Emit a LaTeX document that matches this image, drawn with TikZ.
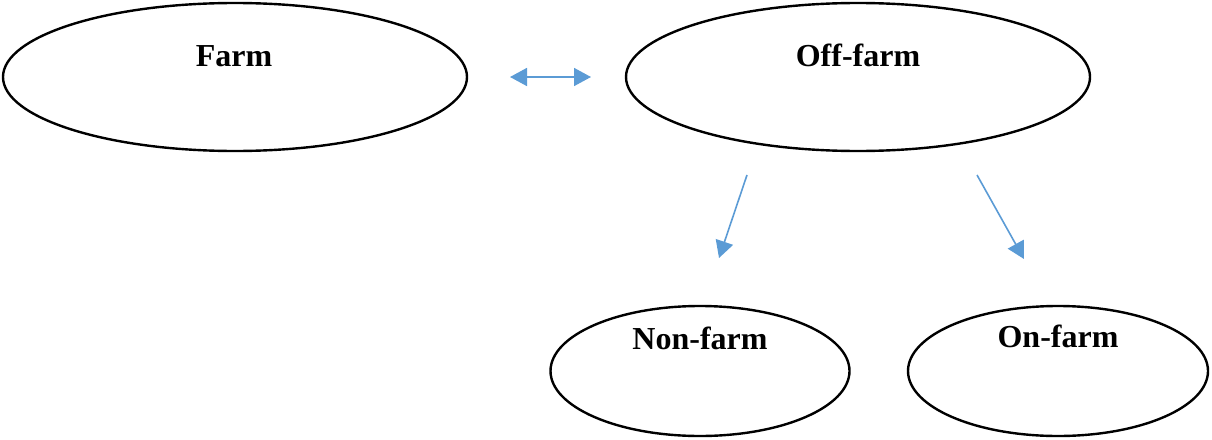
\documentclass[tikz,border=0pt]{standalone}
\usepackage{fontspec}
\setmainfont{Liberation Serif}
\usetikzlibrary{shapes.geometric,arrows.meta}
\definecolor{arrowblue}{RGB}{91,155,213}
\tikzset{
  oval/.style={ellipse, draw=black, line width=2.4pt, inner sep=0pt},
  lbl/.style={anchor=base, font=\fontsize{32}{38}\selectfont\bfseries, inner sep=0pt},
  conn/.style={draw=arrowblue, line width=1.6pt, -{Triangle[length=17pt,width=18pt]}},
  conn2/.style={draw=arrowblue, line width=1.6pt, {Triangle[length=17pt,width=18pt]}-{Triangle[length=17pt,width=18pt]}}
}
\begin{document}
\begin{tikzpicture}[x=1pt,y=-1pt]
\useasboundingbox (0,0) rectangle (1212,439);
\node[oval, minimum width=464pt, minimum height=148pt] (farm) at (235,77) {};
\node[oval, minimum width=464pt, minimum height=148pt] (off) at (858,77) {};
\node[oval, minimum width=299pt, minimum height=130pt] (non) at (700,371) {};
\node[oval, minimum width=300pt, minimum height=130pt] (on) at (1058,371) {};
\node[lbl] (tfarm) at (234,66) {Farm};
\node[lbl] (toff) at (858,66) {Off-farm};
\node[lbl] (tnon) at (700,349) {Non-farm};
\node[lbl] (ton) at (1058,347) {On-farm};
\coordinate (a1) at (510,77);
\coordinate (a2) at (591,77);
\coordinate (b1) at (747,175);
\coordinate (b2) at (719,258);
\coordinate (c1) at (977,175);
\coordinate (c2) at (1024,259);
\draw[conn2] (a1) -- (a2);
\draw[conn] (b1) -- (b2);
\draw[conn] (c1) -- (c2);
\end{tikzpicture}
\end{document}
